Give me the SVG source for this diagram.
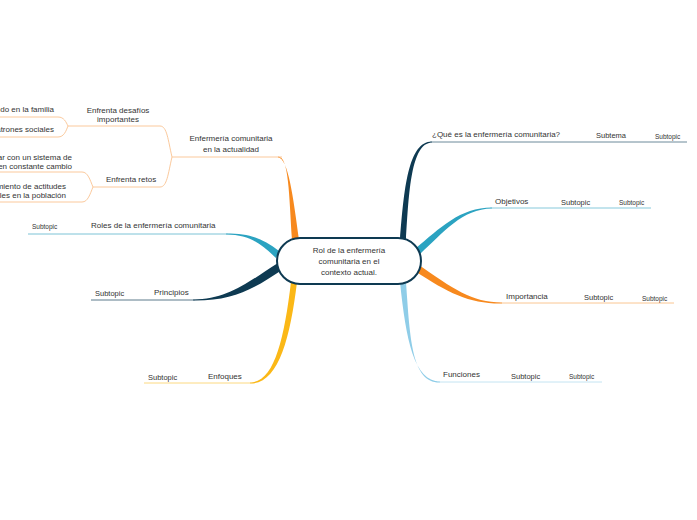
<svg xmlns="http://www.w3.org/2000/svg" width="697" height="520" viewBox="0 0 697 520">
<style>
text{font-family:"Liberation Sans","Noto Sans",Arial,sans-serif;fill:#333;}
.t{font-size:8px;}
.s{font-size:7.5px;}
.xs{font-size:6.5px;}
.m{text-anchor:middle;}
.e{text-anchor:end;}
.ln{fill:none;stroke-width:1;}
.lo{stroke:#fbc99c;}
</style>
<rect width="697" height="520" fill="#ffffff"/>
<g id="connectors">
  <!-- right side -->
  <path d="M400 240 C404 190 408 141.5 432 141.5 L432 142.5 C411 143 409 192 406 240 Z" fill="#0e3a52"/>
  <line class="ln" x1="430" y1="142" x2="687" y2="142" stroke="#6d8a9a"/>
  <path d="M415 249 C440 228 460 207.5 492 207.5 L492 208.5 C462 209 444 232 420 254 Z" fill="#2ba3c1"/>
  <line class="ln" x1="490" y1="208" x2="651" y2="208" stroke="#86c9db"/>
  <path d="M419 265 C452 288 472 302.5 502 302.5 L502 303.5 C470 304 448 293 415 271 Z" fill="#f7891e"/>
  <line class="ln" x1="500" y1="303" x2="674" y2="303" stroke="#fac692"/>
  <path d="M400 282 C406 340 414 381.5 440 381.5 L440 382.5 C412 383 410 340 406 282 Z" fill="#8fcde8"/>
  <line class="ln" x1="437" y1="382" x2="602" y2="382" stroke="#c4e4f2"/>
  <!-- left side -->
  <path d="M292 240 C289 195 289 156.5 278 156.5 L278 157.5 C288 158 293 195 299 240 Z" fill="#f7891e"/>
  <line class="ln lo" x1="172" y1="157" x2="282" y2="157"/>
  <path d="M279 251 C262 238 250 233.5 226 233.5 L226 234.5 C250 235 260 243 276 258 Z" fill="#2ba3c1"/>
  <line class="ln" x1="28" y1="234" x2="228" y2="234" stroke="#7cc3d6"/>
  <path d="M278 263 C248 282 228 299.5 193 299.5 L193 300.5 C232 301 252 290 282 270 Z" fill="#0e3a52"/>
  <line class="ln" x1="91" y1="300" x2="195" y2="300" stroke="#5d7b8b"/>
  <path d="M291 282 C284 340 274 382.5 250 382.5 L250 383.5 C278 384 290 340 297 282 Z" fill="#fbb817"/>
  <line class="ln" x1="144" y1="383" x2="252" y2="383" stroke="#fcd980"/>
  <!-- sub-branches of Enfermería comunitaria en la actualidad -->
  <path class="ln lo" d="M160 126 C167 126 168 140 172 157 C168 174 167 187 160 187"/>
  <line class="ln lo" x1="68" y1="126" x2="160" y2="126"/>
  <line class="ln lo" x1="93" y1="187" x2="160" y2="187"/>
  <path class="ln lo" d="M0 117 L58 117 C64 117 66 122 68 126 C66 131 64 137 58 137 L0 137"/>
  <path class="ln lo" d="M0 172 L82 172 C88 172 90 180 93 187 C90 194 88 202 82 202 L0 202"/>
</g>
<g id="node-central">
  <rect x="277" y="238" width="144" height="46" rx="23" fill="#ffffff" stroke="#0e3a52" stroke-width="2"/>
  <text class="t m" x="349" y="253">Rol de la enfermería</text>
  <text class="t m" x="349" y="264">comunitaria en el</text>
  <text class="t m" x="349" y="275">contexto actual.</text>
</g>
<g id="node-que-es">
  <text class="t" x="432" y="137">¿Qué es la enfermería comunitaria?</text>
  <text class="s" x="596" y="138">Subtema</text>
  <text class="xs" x="655" y="138.5">Subtopic</text>
</g>
<g id="node-objetivos">
  <text class="t" x="495" y="203.5">Objetivos</text>
  <text class="s" x="561" y="204.5">Subtopic</text>
  <text class="xs" x="619" y="205">Subtopic</text>
</g>
<g id="node-importancia">
  <text class="t" x="506" y="298.5">Importancia</text>
  <text class="s" x="584" y="299.5">Subtopic</text>
  <text class="xs" x="642" y="300.5">Subtopic</text>
</g>
<g id="node-funciones">
  <text class="t" x="443" y="377">Funciones</text>
  <text class="s" x="511" y="378.5">Subtopic</text>
  <text class="xs" x="569" y="379">Subtopic</text>
</g>
<g id="node-actualidad">
  <text class="t m" x="231" y="141">Enfermería comunitaria</text>
  <text class="t m" x="231" y="152">en la actualidad</text>
</g>
<g id="node-desafios">
  <text class="t m" x="118" y="113">Enfrenta desafíos</text>
  <text class="t m" x="118" y="122">importantes</text>
</g>
<g id="node-familia">
  <text class="t e" x="54" y="112">do en la familia</text>
</g>
<g id="node-sociales">
  <text class="t e" x="54" y="132">atrones sociales</text>
</g>
<g id="node-retos">
  <text class="t m" x="131" y="182">Enfrenta retos</text>
</g>
<g id="node-sistema">
  <text class="t e" x="72" y="159.5">jar con un sistema de</text>
  <text class="t e" x="72" y="168.5">en constante cambio</text>
</g>
<g id="node-actitudes">
  <text class="t e" x="66" y="188.5">miento de actitudes</text>
  <text class="t e" x="66" y="198">ales en la población</text>
</g>
<g id="node-roles">
  <text class="t" x="91" y="228">Roles de la enfermería comunitaria</text>
  <text class="xs" x="32" y="229">Subtopic</text>
</g>
<g id="node-principios">
  <text class="t" x="154" y="294.5">Principios</text>
  <text class="s" x="95" y="296">Subtopic</text>
</g>
<g id="node-enfoques">
  <text class="t" x="208" y="378.5">Enfoques</text>
  <text class="s" x="148" y="380">Subtopic</text>
</g>
</svg>
